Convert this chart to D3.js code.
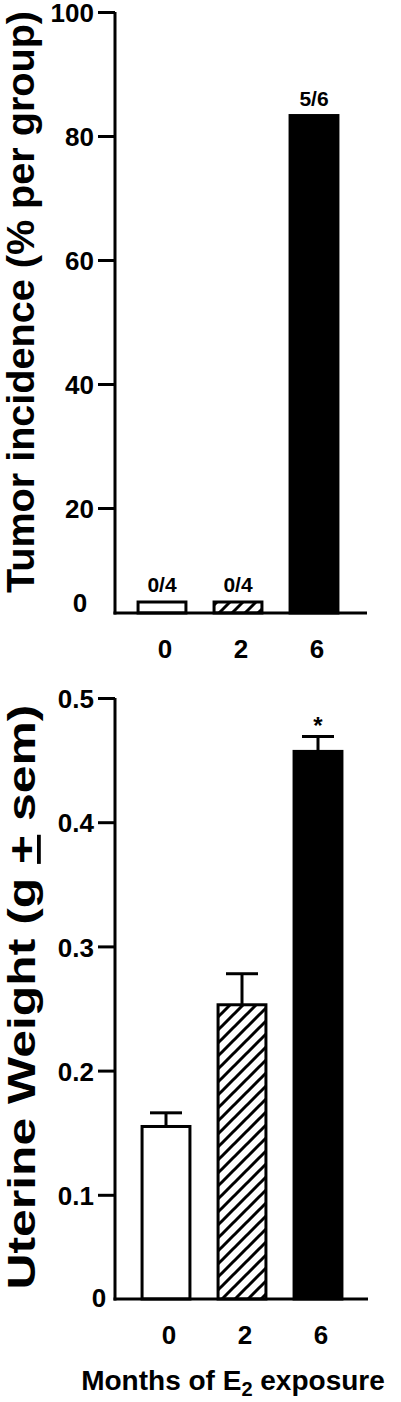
<!DOCTYPE html>
<html>
<head>
<meta charset="utf-8">
<script src="https://cdn.jsdelivr.net/npm/d3@7"></script>
<style>
  body { margin: 0; background: #fff; }
  svg { display: block; }
  text { font-family: "Liberation Sans", Arial, sans-serif; font-weight: bold; fill: #000; }
</style>
</head>
<body>
<svg id="chart" width="401" height="1402"></svg>
<script>
'use strict';

// months of E2 exposure (shared x categories)
const months = ['0', '2', '6'];
const fills = ['white', 'hatch', 'black'];

// top panel: tumor incidence
const incidence = [0, 0, 83.3];
const incidenceLabels = ['0/4', '0/4', '5/6'];
const incidenceTicks = [20, 40, 60, 80, 100];

// bottom panel: uterine weight
const weight = [0.155, 0.253, 0.457];
const weightSem = [0.011, 0.025, 0.012];
const weightStars = ['', '', '*'];
const weightTicks = [0.1, 0.2, 0.3, 0.4, 0.5];

const svg = d3.select('#chart');

// hatch pattern for the 2 month bar
const defs = svg.append('defs');
defs.append('pattern')
	.attr('id', 'hatch')
	.attr('patternUnits', 'userSpaceOnUse')
	.attr('width', 13)
	.attr('height', 13)
	.append('path')
		.attr('d', 'M0,13 L13,0 M-4,4 L4,-4 M9,17 L17,9')
		.attr('stroke', '#000')
		.attr('stroke-width', 3);

function fillOf(f){
	if(f === 'hatch') return 'url(#hatch)';
	return f;
}

function drawAxes(g, y, ticks, fmt, x, axisX, axisTop, baseY, xEnd, zero){
	// y axis line
	g.append('line')
		.attr('x1', axisX).attr('x2', axisX)
		.attr('y1', axisTop).attr('y2', baseY + 1.5)
		.attr('stroke', '#000').attr('stroke-width', 3);
	// x axis line
	g.append('line')
		.attr('x1', axisX - 1.5).attr('x2', xEnd)
		.attr('y1', baseY).attr('y2', baseY)
		.attr('stroke', '#000').attr('stroke-width', 3);

	let ax = g.append('g')
		.attr('transform', 'translate(' + axisX + ',0)')
		.call(d3.axisLeft(y).tickValues(ticks).tickSize(17).tickPadding(4).tickFormat(fmt));
	ax.select('.domain').remove();
	ax.selectAll('.tick line').attr('stroke', '#000').attr('stroke-width', 3);
	ax.selectAll('.tick text')
		.attr('font-size', 26)
		.attr('font-family', null)
		.attr('dy', '0.37em');

	// the "0" label sits on the x axis, without a tick
	g.append('text')
		.attr('x', zero.x).attr('y', zero.y)
		.attr('text-anchor', 'middle')
		.attr('font-size', 26)
		.text('0');

	// category labels
	g.selectAll('text.cat')
		.data(months)
		.enter().append('text')
			.attr('class', 'cat')
			.attr('x', d => x(d) + x.bandwidth() / 2 + 3)
			.attr('y', baseY + 45)
			.attr('text-anchor', 'middle')
			.attr('font-size', 26)
			.text(d => d);
}

// ---- top panel ----
(function(){
	const baseY = 613;
	const zeroBarHeight = 11;
	const y = d3.scaleLinear().domain([0, 100]).range([632, 12]);
	const x = d3.scaleBand().domain(months).range([124, 352]).paddingInner(0.37).paddingOuter(0.185);
	const g = svg.append('g');

	const rows = months.map((m, i) => ({m: m, v: incidence[i], lab: incidenceLabels[i], fill: fills[i]}));

	g.selectAll('rect.bar')
		.data(rows)
		.enter().append('rect')
			.attr('class', 'bar')
			.attr('x', d => x(d.m))
			.attr('width', x.bandwidth())
			.attr('y', d => Math.min(y(d.v), baseY - zeroBarHeight))
			.attr('height', d => baseY - Math.min(y(d.v), baseY - zeroBarHeight))
			.attr('fill', d => fillOf(d.fill))
			.attr('stroke', '#000')
			.attr('stroke-width', 3);

	g.selectAll('text.count')
		.data(rows)
		.enter().append('text')
			.attr('class', 'count')
			.attr('x', d => x(d.m) + x.bandwidth() / 2)
			.attr('y', d => Math.min(y(d.v), baseY - zeroBarHeight) - 10)
			.attr('text-anchor', 'middle')
			.attr('font-size', 21)
			.text(d => d.lab);

	drawAxes(g, y, incidenceTicks, d3.format('d'), x, 115, 12, baseY, 367, {x: 80, y: 612});

	g.append('text')
		.attr('transform', 'translate(34,302) rotate(-90)')
		.attr('text-anchor', 'middle')
		.attr('font-size', 38)
		.attr('textLength', 582)
		.attr('lengthAdjust', 'spacingAndGlyphs')
		.text('Tumor incidence (% per group)');
})();

// ---- bottom panel ----
(function(){
	const baseY = 1299;
	const y = d3.scaleLinear().domain([0, 0.5]).range([1319, 698]);
	const x = d3.scaleBand().domain(months).range([128, 356]).paddingInner(0.37).paddingOuter(0.185);
	const g = svg.append('g');

	const rows = months.map((m, i) => ({m: m, v: weight[i], e: weightSem[i], star: weightStars[i], fill: fills[i]}));

	// error bars first, bars drawn on top
	let err = g.selectAll('g.err')
		.data(rows)
		.enter().append('g')
			.attr('class', 'err');
	err.append('line')
		.attr('x1', d => x(d.m) + x.bandwidth() / 2)
		.attr('x2', d => x(d.m) + x.bandwidth() / 2)
		.attr('y1', d => y(d.v))
		.attr('y2', d => y(d.v + d.e))
		.attr('stroke', '#000').attr('stroke-width', 3);
	err.append('line')
		.attr('x1', d => x(d.m) + x.bandwidth() / 2 - 16)
		.attr('x2', d => x(d.m) + x.bandwidth() / 2 + 16)
		.attr('y1', d => y(d.v + d.e))
		.attr('y2', d => y(d.v + d.e))
		.attr('stroke', '#000').attr('stroke-width', 3);

	g.selectAll('rect.bar')
		.data(rows)
		.enter().append('rect')
			.attr('class', 'bar')
			.attr('x', d => x(d.m))
			.attr('width', x.bandwidth())
			.attr('y', d => y(d.v))
			.attr('height', d => baseY - y(d.v))
			.attr('fill', d => fillOf(d.fill))
			.attr('stroke', '#000')
			.attr('stroke-width', 3);

	g.selectAll('text.star')
		.data(rows.filter(d => d.star))
		.enter().append('text')
			.attr('class', 'star')
			.attr('x', d => x(d.m) + x.bandwidth() / 2)
			.attr('y', d => y(d.v + d.e) - 3)
			.attr('text-anchor', 'middle')
			.attr('font-size', 24)
			.text(d => d.star);

	drawAxes(g, y, weightTicks, d3.format('.1f'), x, 115, 698, baseY, 368, {x: 99, y: 1307});

	let t = g.append('text')
		.attr('transform', 'translate(35,997) rotate(-90)')
		.attr('text-anchor', 'middle')
		.attr('font-size', 38)
		.attr('textLength', 585)
		.attr('lengthAdjust', 'spacingAndGlyphs');
	t.append('tspan').text('Uterine Weight (g ');
	t.append('tspan').attr('text-decoration', 'underline').text('+');
	t.append('tspan').text(' sem)');

	let xt = g.append('text')
		.attr('x', 233)
		.attr('y', 1390)
		.attr('text-anchor', 'middle')
		.attr('font-size', 28);
	xt.append('tspan').text('Months of E');
	xt.append('tspan').attr('font-size', 20).attr('dy', 6).text('2');
	xt.append('tspan').attr('dy', -6).text(' exposure');
})();
</script>
</body>
</html>
